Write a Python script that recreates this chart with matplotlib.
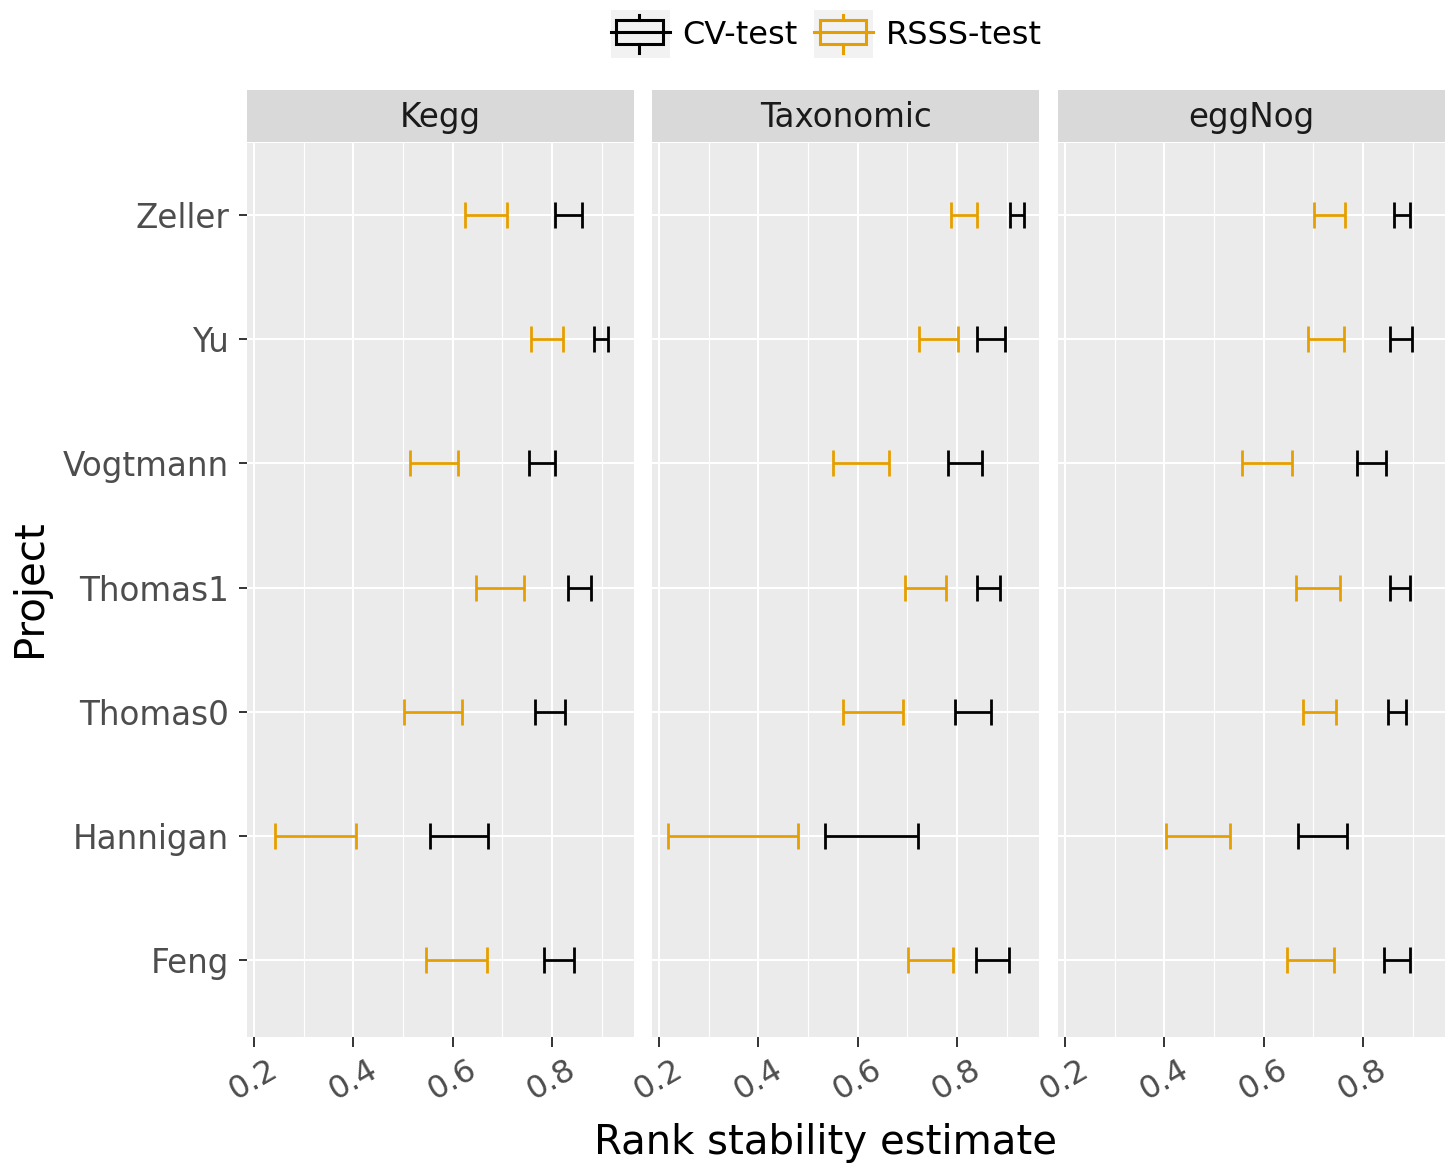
import numpy as np
import matplotlib
matplotlib.use("Agg")
import matplotlib.pyplot as plt
from matplotlib.patches import Rectangle
from matplotlib.lines import Line2D
from matplotlib.legend_handler import HandlerBase

# projects, bottom to top
projects = ["Feng", "Hannigan", "Thomas0", "Thomas1", "Vogtmann", "Yu", "Zeller"]
panels = ["Kegg", "Taxonomic", "eggNog"]

kegg_cv_lo = [0.784, 0.555, 0.766, 0.833, 0.753, 0.884, 0.806]
kegg_cv_hi = [0.845, 0.672, 0.827, 0.879, 0.806, 0.912, 0.861]
kegg_rsss_lo = [0.547, 0.242, 0.503, 0.647, 0.515, 0.757, 0.625]
kegg_rsss_hi = [0.670, 0.406, 0.618, 0.744, 0.610, 0.823, 0.709]

tax_cv_lo = [0.839, 0.535, 0.796, 0.841, 0.781, 0.841, 0.907]
tax_cv_hi = [0.904, 0.722, 0.868, 0.886, 0.850, 0.897, 0.934]
tax_rsss_lo = [0.701, 0.218, 0.571, 0.696, 0.550, 0.724, 0.787]
tax_rsss_hi = [0.791, 0.479, 0.691, 0.778, 0.664, 0.801, 0.841]

egg_cv_lo = [0.843, 0.669, 0.851, 0.855, 0.788, 0.855, 0.862]
egg_cv_hi = [0.894, 0.767, 0.886, 0.895, 0.847, 0.899, 0.894]
egg_rsss_lo = [0.647, 0.404, 0.680, 0.666, 0.557, 0.690, 0.702]
egg_rsss_hi = [0.741, 0.533, 0.746, 0.753, 0.658, 0.761, 0.763]

xticks = [0.2, 0.4, 0.6, 0.8]
xminor = [0.3, 0.5, 0.7, 0.9]

CV_COL = "black"
RSSS_COL = "#E69F00"

series = {
    "Kegg": (kegg_cv_lo, kegg_cv_hi, kegg_rsss_lo, kegg_rsss_hi),
    "Taxonomic": (tax_cv_lo, tax_cv_hi, tax_rsss_lo, tax_rsss_hi),
    "eggNog": (egg_cv_lo, egg_cv_hi, egg_rsss_lo, egg_rsss_hi),
}


class BoxKey(HandlerBase):
    def create_artists(self, legend, orig_handle, xdescent, ydescent,
                       width, height, fontsize, trans):
        c = orig_handle.get_color()
        x0, y0 = -xdescent, -ydescent
        bg = Rectangle((x0, y0), width, height, fc="#F2F2F2", ec="none", transform=trans)
        bx0, bx1 = x0 + width * 0.1, x0 + width * 0.88
        by0, by1 = y0 + height * 0.28, y0 + height * 0.79
        box = Rectangle((bx0, by0), bx1 - bx0, by1 - by0, fc="none", ec=c, lw=2.2, transform=trans)
        cy = (by0 + by1) / 2
        cx = (bx0 + bx1) / 2
        hl = Line2D([x0, x0 + width], [cy, cy], color=c, lw=2.2, transform=trans)
        v1 = Line2D([cx, cx], [by1, y0 + height * 0.9], color=c, lw=2.2, transform=trans)
        v2 = Line2D([cx, cx], [y0 + height * 0.1, by0], color=c, lw=2.2, transform=trans)
        return [bg, box, hl, v1, v2]


fig = plt.figure(figsize=(14.52, 11.67), dpi=100)
W, H = 1452.0, 1167.0
lefts = [247, 652, 1058]
pw = 387
top_px, bot_px = 143, 1037
strip_top = 90

y = np.arange(1, len(projects) + 1)

for i, name in enumerate(panels):
    ax = fig.add_axes([lefts[i] / W, 1 - bot_px / H, pw / W, (bot_px - top_px) / H])
    ax.set_facecolor("#EBEBEB")
    for s in ax.spines.values():
        s.set_visible(False)
    ax.set_xlim(0.186, 0.965)
    ax.set_ylim(0.38, 7.58)
    ax.set_xticks(xticks)
    ax.set_xticks(xminor, minor=True)
    ax.set_yticks(y)
    ax.grid(which="major", color="white", lw=1.5)
    ax.grid(which="minor", axis="x", color="white", lw=0.8)
    ax.set_axisbelow(True)
    ax.set_xticklabels(["0.2", "0.4", "0.6", "0.8"], rotation=30, ha="center", va="top",
                       fontsize=23, color="#4D4D4D")
    ax.tick_params(axis="x", which="major", length=7, width=1.4, color="#333333", pad=5)
    ax.tick_params(axis="x", which="minor", length=0)
    if i == 0:
        ax.set_yticklabels(projects, fontsize=23.5, color="#4D4D4D")
        ax.tick_params(axis="y", length=6, width=1.4, color="#333333", pad=7)
    else:
        ax.set_yticklabels([])
        ax.tick_params(axis="y", length=0)

    cv_lo, cv_hi, rs_lo, rs_hi = [np.array(a) for a in series[name]]
    ax.errorbar((rs_lo + rs_hi) / 2, y, xerr=(rs_hi - rs_lo) / 2, fmt="none",
                ecolor=RSSS_COL, elinewidth=2.0, capsize=9.5, capthick=2.0)
    ax.errorbar((cv_lo + cv_hi) / 2, y, xerr=(cv_hi - cv_lo) / 2, fmt="none",
                ecolor=CV_COL, elinewidth=2.0, capsize=9.5, capthick=2.0)

    # facet strip
    sax = fig.add_axes([lefts[i] / W, 1 - (top_px - 1) / H, pw / W, (top_px - 1 - strip_top) / H])
    sax.set_facecolor("#D9D9D9")
    sax.set_xticks([])
    sax.set_yticks([])
    for s in sax.spines.values():
        s.set_visible(False)
    sax.text(0.5, 0.48, name, ha="center", va="center", fontsize=23.5, color="#1A1A1A",
             transform=sax.transAxes)

fig.text(826 / W, 1 - 1143 / H, "Rank stability estimate", ha="center", va="center", fontsize=29)
fig.text(30 / W, 1 - 588 / H, "Project", ha="center", va="center", rotation=90, fontsize=29)

handles = [Line2D([], [], color=CV_COL), Line2D([], [], color=RSSS_COL)]
fig.legend(handles, ["CV-test", "RSSS-test"], handler_map={Line2D: BoxKey()},
           loc="center", bbox_to_anchor=(826 / W, 1 - 34 / H), ncol=2, frameon=False,
           fontsize=23, handlelength=1.85, handleheight=1.9, handletextpad=0.4,
           columnspacing=0.5, borderpad=0.1)

fig.savefig("out.png", dpi=100)
